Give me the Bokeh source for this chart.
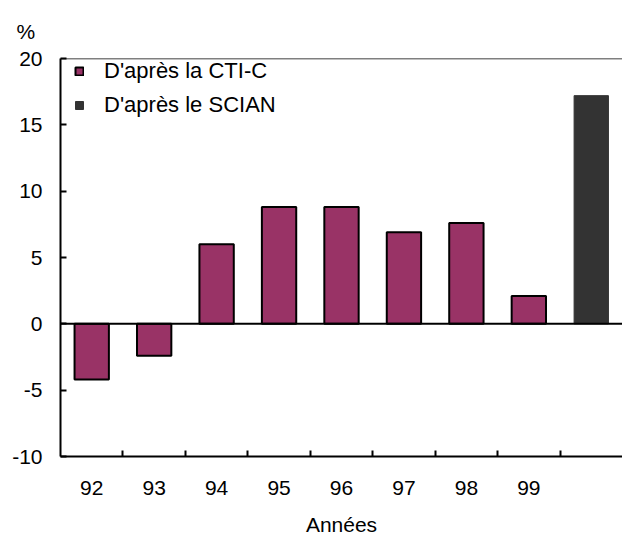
import numpy as np
from bokeh.plotting import figure
from bokeh.models import (Range1d, FixedTicker, Span, Legend, LegendItem, Title,
                          ColumnDataSource)
from bokeh.embed import file_html
from bokeh.resources import INLINE

# ---- data ----
years = ["92", "93", "94", "95", "96", "97", "98", "99"]
cti_values = [-4.2, -2.4, 6.0, 8.8, 8.8, 6.9, 7.6, 2.1]
scian_year = ["00"]
scian_values = [17.2]
y_ticks = [-10, -5, 0, 5, 10, 15, 20]
y_tick_labels = ["-10", "-5", "0", "5", "10", "15", "20"]
x_axis_title = "Années"
y_unit = "%"
cti_label = "D'après la CTI-C"
scian_label = "D'après le SCIAN"

FONT = "Liberation Sans"
FS = "21px"
PURPLE = "#993366"
DARK = "#333333"

factors = years + scian_year
n = len(factors)
pos = {f: i + 0.5 for i, f in enumerate(factors)}   # category centers

src_cti = ColumnDataSource(dict(x=[pos[y] for y in years], top=cti_values, year=years))
src_sc = ColumnDataSource(dict(x=[pos[y] for y in scian_year], top=scian_values, year=scian_year))

p = figure(width=622, height=538, output_backend="svg", toolbar_location=None,
           x_range=Range1d(0, n), y_range=Range1d(-10, 20),
           min_border_left=60, min_border_right=0, min_border_top=58, min_border_bottom=78)
p.outline_line_color = None
p.xgrid.visible = False
p.ygrid.visible = False
p.background_fill_color = "white"
p.border_fill_color = "white"

# bars
r1 = p.vbar(x="x", top="top", bottom=0, width=0.55, source=src_cti,
            fill_color=PURPLE, line_color="black", line_width=2)
r2 = p.vbar(x="x", top="top", bottom=0, width=0.55, source=src_sc,
            fill_color=DARK, line_color=DARK, line_width=1)

# zero line and top line
p.add_layout(Span(location=0, dimension="width", line_color="black", line_width=2))
p.add_layout(Span(location=y_ticks[-1], dimension="width", line_color="black", line_width=1.5))

# x axis: labels at centers, ticks between categories
centers = [pos[y] for y in years]
bounds = [float(i) for i in range(1, n)]
xax = p.xaxis[0]
xax.ticker = FixedTicker(ticks=centers, minor_ticks=bounds)
xax.major_label_overrides = {c: y for c, y in zip(centers, years)}
xax.major_tick_line_color = None
xax.minor_tick_line_color = "black"
xax.minor_tick_line_width = 2
xax.minor_tick_in = 6
xax.minor_tick_out = 0
xax.axis_line_color = "black"
xax.axis_line_width = 2
xax.major_label_text_font = FONT
xax.major_label_text_font_size = FS
xax.major_label_text_color = "black"
xax.major_label_standoff = 18
xax.axis_label = x_axis_title
xax.axis_label_text_font = FONT
xax.axis_label_text_font_size = FS
xax.axis_label_text_font_style = "normal"
xax.axis_label_text_color = "black"
xax.axis_label_standoff = 15

# y axis
yax = p.yaxis[0]
yax.ticker = FixedTicker(ticks=y_ticks)
yax.major_label_overrides = {t: s for t, s in zip(y_ticks, y_tick_labels)}
yax.minor_tick_line_color = None
yax.major_tick_in = 6
yax.major_tick_out = 0
yax.major_tick_line_width = 2
yax.axis_line_width = 2
yax.major_label_standoff = 18
yax.major_label_text_font = FONT
yax.major_label_text_font_size = FS
yax.major_label_text_color = "black"

# legend
legend = Legend(items=[LegendItem(label=cti_label, renderers=[r1]),
                       LegendItem(label=scian_label, renderers=[r2])],
                location=(14, 338), glyph_width=10, glyph_height=10,
                label_standoff=20, label_height=23, spacing=8, padding=4, margin=0,
                border_line_color=None, background_fill_alpha=0,
                label_text_font=FONT, label_text_font_size="22px", label_text_color="black")
p.add_layout(legend)

# "%" unit above the y axis
p.title = Title(text=y_unit, align="left", offset=-44, standoff=32,
                text_font=FONT, text_font_size=FS, text_font_style="normal",
                text_color="black")

open("out.html", "w").write(file_html(p, INLINE))
